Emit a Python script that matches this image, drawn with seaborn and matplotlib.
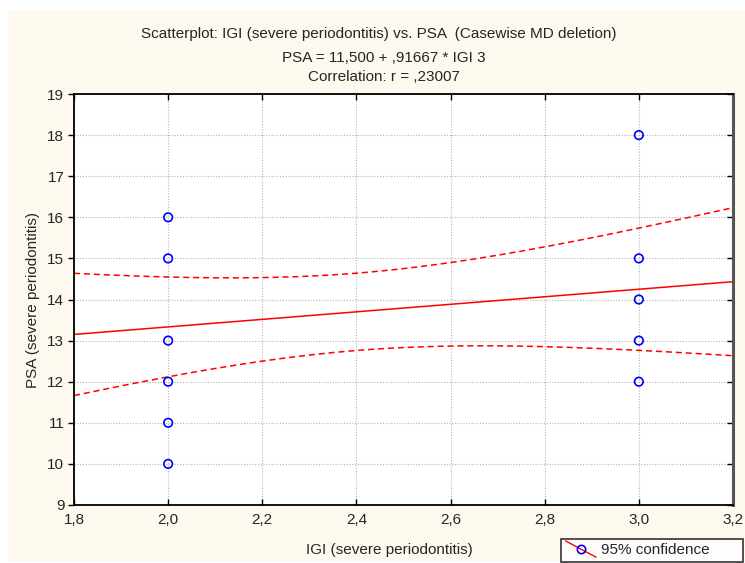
import numpy as np
import pandas as pd
import matplotlib
matplotlib.use("Agg")
import matplotlib.pyplot as plt
from matplotlib.lines import Line2D
from matplotlib.patches import Rectangle
from matplotlib.legend_handler import HandlerBase
from matplotlib.ticker import FuncFormatter
import seaborn as sns

igi_2 = [2.0] * 12
psa_2 = [16, 16, 16, 15, 15, 13, 12, 12, 12, 12, 11, 10]
igi_3 = [3.0] * 8
psa_3 = [18, 15, 14, 14, 14, 14, 13, 12]

x_ticks = [1.8, 2.0, 2.2, 2.4, 2.6, 2.8, 3.0, 3.2]
y_ticks = list(range(9, 20))

df = pd.DataFrame({"IGI": igi_2 + igi_3, "PSA": psa_2 + psa_3})

# Linear fit + 95% confidence band for the mean
x = df["IGI"].values
y = df["PSA"].values
n = len(x)
slope, intercept = np.polyfit(x, y, 1)
resid = y - (intercept + slope * x)
s = np.sqrt(np.sum(resid ** 2) / (n - 2))
t_crit = 2.100922  # t(0.975, df=18)
sxx = np.sum((x - x.mean()) ** 2)
xg = np.linspace(x_ticks[0], x_ticks[-1], 200)
yg = intercept + slope * xg
half = t_crit * s * np.sqrt(1 / n + (xg - x.mean()) ** 2 / sxx)
r = np.corrcoef(x, y)[0, 1]

sns.set_style("white")
plt.rcParams["font.family"] = ["Liberation Sans", "DejaVu Sans"]

fig = plt.figure(figsize=(7.45, 5.63), dpi=100)
fig.patch.set_facecolor("white")
fig.patches.append(Rectangle((8 / 745, 1 / 563), 1, 1 - 11 / 563, transform=fig.transFigure,
                             facecolor="#fdf9ee", edgecolor="none", zorder=-10))

ax = fig.add_axes([74 / 745, 58 / 563, 659 / 745, 411 / 563])
ax.set_facecolor("white")

grid_kw = dict(color="#b4b4b4", lw=0.8, ls=(0, (1, 1.5)))
ax.grid(True, **grid_kw)
ax.set_axisbelow(True)

sns.lineplot(x=xg, y=yg, color="red", lw=1.1, ax=ax)
sns.lineplot(x=xg, y=yg + half, color="red", lw=1.1, ls=(0, (4, 2.5)), ax=ax)
sns.lineplot(x=xg, y=yg - half, color="red", lw=1.1, ls=(0, (4, 2.5)), ax=ax)
# coincident cases drawn once, as the original shows a single circle per value
sns.scatterplot(data=df.drop_duplicates(), x="IGI", y="PSA", marker="o", s=38, fc="none",
                ec="blue", linewidth=1.2, ax=ax, zorder=5)

ax.set_xlim(1.8, 3.2)
ax.set_ylim(9, 19)
ax.set_xticks(x_ticks)
ax.set_yticks(y_ticks)
ax.xaxis.set_major_formatter(FuncFormatter(lambda v, p: f"{v:.1f}".replace(".", ",")))
ax.set_xlabel("")
ax.set_ylabel("")
ax.tick_params(axis="both", labelsize=11, color="black", width=1, length=4)
ax.tick_params(axis="x", direction="in", top=True, bottom=True, pad=6)
ax.tick_params(axis="y", left=True, right=True, direction="out", pad=3)
for tk in ax.yaxis.get_major_ticks():
    tk.tick2line.set_marker(0)  # right ticks point inward
for side in ["left", "top", "bottom"]:
    ax.spines[side].set_color("black")
    ax.spines[side].set_linewidth(1.3)
ax.spines["right"].set_color("#555555")
ax.spines["right"].set_linewidth(2.2)

fig.text(0.508, 1 - 34 / 563,
         "Scatterplot: IGI (severe periodontitis) vs. PSA  (Casewise MD deletion)",
         ha="center", va="center", fontsize=11)
fig.text(0.515, 1 - 58 / 563,
         "PSA = " + f"{intercept:.3f}".replace(".", ",") + " + "
         + f"{slope:.5f}".replace("0.", ",") + " * IGI 3",
         ha="center", va="center", fontsize=11)
fig.text(0.516, 1 - 77 / 563, "Correlation: r = " + f"{r:.5f}".replace("0.", ","),
         ha="center", va="center", fontsize=11)
fig.text(389 / 745, 1 - 550 / 563, "IGI (severe periodontitis)", ha="center", va="center",
         fontsize=11)
fig.text(33 / 745, 1 - 300 / 563, "PSA (severe periodontitis)", ha="center", va="center",
         rotation=90, fontsize=11)


class DiagHandler(HandlerBase):
    def create_artists(self, legend, orig, xd, yd, w, h, fs, trans):
        ln = Line2D([-xd, -xd + w], [h - yd + 2, -yd - 2], color="red", lw=1, transform=trans)
        mk = Line2D([-xd + w / 2], [(h - yd) / 2], marker="o", ms=6, mfc="none", mec="blue",
                    mew=1.2, ls="none", transform=trans)
        return [ln, mk]


handle = Line2D([], [])
leg = fig.legend([handle], ["95% confidence"], handler_map={Line2D: DiagHandler()},
                 loc="lower left", bbox_to_anchor=(561 / 745, 1 / 563, 182 / 745, 25 / 563),
                 mode="expand", fontsize=11, fancybox=False, frameon=True,
                 handlelength=2.0, borderpad=0.3, handletextpad=0.3, borderaxespad=0.0)
leg.get_frame().set_edgecolor("black")
leg.get_frame().set_facecolor("white")
leg.get_frame().set_linewidth(1.2)

fig.savefig("out.png", dpi=100)
